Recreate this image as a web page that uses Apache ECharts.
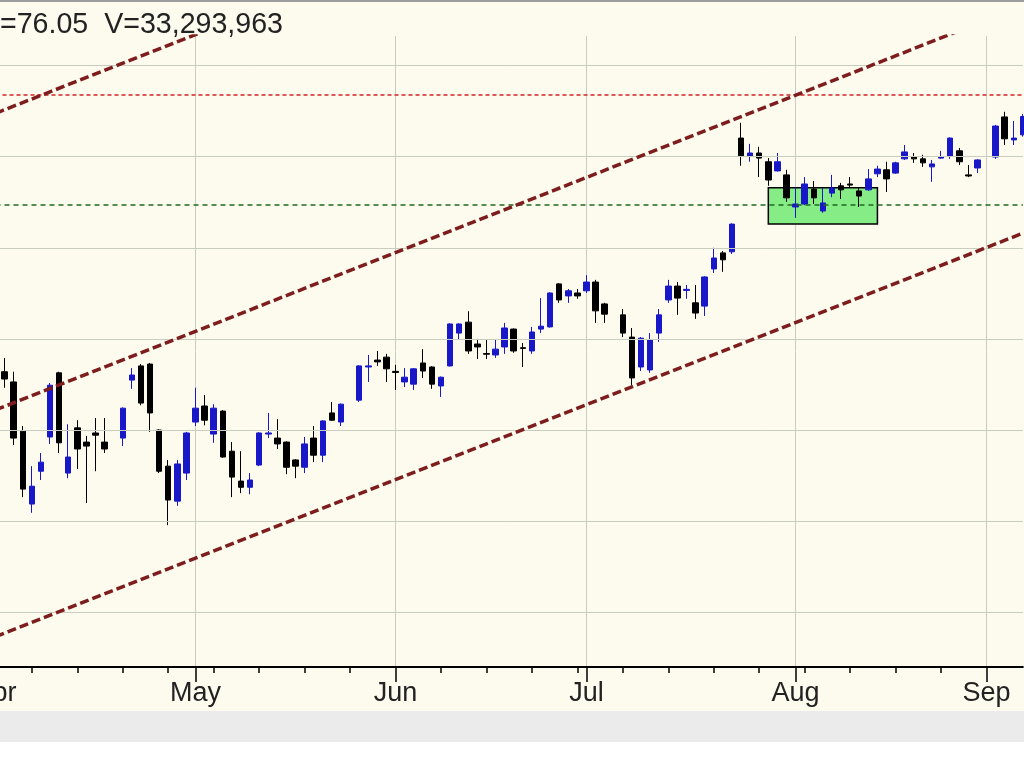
<!DOCTYPE html>
<html><head><meta charset="utf-8">
<script src="https://cdn.jsdelivr.net/npm/echarts@6/dist/echarts.min.js"></script>
<style>html,body{margin:0;padding:0;background:#fff}#c{width:1024px;height:768px}</style>
</head><body><div id="c"></div>
<script>
// Trading-calendar weekdays (holidays left as gaps)
const dates = [
 '2014-04-01','2014-04-02','2014-04-03','2014-04-04','2014-04-07','2014-04-08','2014-04-09','2014-04-10','2014-04-11',
 '2014-04-14','2014-04-15','2014-04-16','2014-04-17','2014-04-18','2014-04-21','2014-04-22','2014-04-23','2014-04-24','2014-04-25',
 '2014-04-28','2014-04-29','2014-04-30',
 '2014-05-01','2014-05-02','2014-05-05','2014-05-06','2014-05-07','2014-05-08','2014-05-09','2014-05-12','2014-05-13','2014-05-14',
 '2014-05-15','2014-05-16','2014-05-19','2014-05-20','2014-05-21','2014-05-22','2014-05-23','2014-05-26','2014-05-27','2014-05-28',
 '2014-05-29','2014-05-30',
 '2014-06-02','2014-06-03','2014-06-04','2014-06-05','2014-06-06','2014-06-09','2014-06-10','2014-06-11','2014-06-12','2014-06-13',
 '2014-06-16','2014-06-17','2014-06-18','2014-06-19','2014-06-20','2014-06-23','2014-06-24','2014-06-25','2014-06-26','2014-06-27',
 '2014-06-30',
 '2014-07-01','2014-07-02','2014-07-03','2014-07-04','2014-07-07','2014-07-08','2014-07-09','2014-07-10','2014-07-11','2014-07-14',
 '2014-07-15','2014-07-16','2014-07-17','2014-07-18','2014-07-21','2014-07-22','2014-07-23','2014-07-24','2014-07-25','2014-07-28',
 '2014-07-29','2014-07-30','2014-07-31',
 '2014-08-01','2014-08-04','2014-08-05','2014-08-06','2014-08-07','2014-08-08','2014-08-11','2014-08-12','2014-08-13','2014-08-14',
 '2014-08-15','2014-08-18','2014-08-19','2014-08-20','2014-08-21','2014-08-22','2014-08-25','2014-08-26','2014-08-27','2014-08-28',
 '2014-08-29',
 '2014-09-01','2014-09-02','2014-09-03','2014-09-04','2014-09-05'
];
// [open, close, low, high]
const ohlc = [
 '-',
 [69.10,68.90,68.66,69.48],[68.82,67.28,67.09,69.10],[67.47,65.88,65.66,67.61],[65.47,65.96,65.23,66.51],
 [66.37,66.62,66.13,66.87],[67.31,68.73,67.12,68.79],[69.07,67.15,66.87,69.10],[66.32,66.76,66.18,67.66],
 [67.56,66.98,66.43,67.77],[67.17,67.06,65.50,67.34],[67.42,67.36,66.37,67.83],[67.17,66.98,66.87,67.83],
 '-',
 [67.28,68.10,67.06,68.12],[68.87,69.01,68.63,69.20],[69.26,68.24,68.18,69.31],[69.31,67.97,67.45,69.34],
 [67.50,66.37,66.32,67.52],[66.51,65.58,64.89,66.68],[65.55,66.57,65.42,66.68],[66.32,67.42,66.13,67.45],
 [67.72,68.10,67.61,68.66],[68.16,67.77,67.63,68.46],[67.39,68.10,67.15,68.21],[68.02,66.76,66.74,68.05],
 [66.92,66.21,65.66,67.17],[66.10,65.93,65.77,66.92],[65.93,66.13,65.74,66.32],[66.54,67.42,66.51,67.44],
 [67.39,67.42,67.28,67.97],[67.28,67.12,66.98,67.80],[67.17,66.48,66.29,67.19],[66.68,66.51,66.18,66.70],
 [66.48,67.12,66.32,67.31],[67.28,66.81,66.62,67.61],[66.81,67.75,66.62,67.77],[67.97,67.77,67.75,68.27],
 [67.72,68.21,67.61,68.23],
 '-',
 [68.32,69.26,68.27,69.28],[69.23,69.26,68.82,69.56],[69.42,69.37,69.26,69.67],[69.50,69.18,68.82,69.59],
 [69.11,69.08,68.60,69.29],[68.82,68.95,68.68,69.20],[68.76,69.18,68.60,69.20],[69.34,69.12,68.93,69.72],
 [69.23,68.76,68.63,69.25],[68.71,68.95,68.41,68.97],[69.26,70.41,69.24,70.43],[70.16,70.41,69.97,70.43],
 [70.46,69.67,69.59,70.76],[69.86,69.78,69.45,70.00],[69.60,69.58,69.45,69.97],[69.56,69.72,69.48,69.97],
 [69.78,70.30,69.59,70.44],[70.27,69.67,69.62,70.29],[69.76,69.74,69.23,69.89],[69.67,70.19,69.59,70.33],
 [70.27,70.35,70.16,71.12],[70.33,71.26,70.31,71.28],[71.51,71.07,70.99,71.53],[71.18,71.32,70.99,71.37],
 [71.26,71.18,71.10,71.37],
 [71.32,71.56,71.26,71.75],[71.56,70.77,70.44,71.62],[70.96,70.68,70.44,70.99],
 '-',
 [70.66,70.16,70.05,70.82],[70.05,68.93,68.73,70.30],[69.23,70.02,69.12,70.05],[69.15,69.97,69.07,70.16],
 [70.16,70.66,69.92,70.82],[71.07,71.45,70.99,71.62],[71.45,71.12,70.66,71.56],[71.33,71.36,71.10,71.48],
 [70.99,70.71,70.55,71.48],[70.90,71.70,70.63,71.72],[71.92,72.22,71.81,72.50],[72.36,72.17,71.84,72.41],
 [72.39,73.15,72.33,73.17],[75.51,75.02,74.75,75.93],[75.02,75.10,74.86,75.35],[75.10,74.96,74.44,75.27],
 [74.86,74.36,74.20,74.96],[74.61,74.86,74.59,75.10],[74.50,73.87,73.76,74.64],
 [73.62,73.70,73.32,74.17],[73.70,74.25,73.67,74.44],[74.11,73.87,73.70,74.33],[73.51,73.73,73.46,74.14],
 [74.00,74.14,73.89,74.50],[74.20,74.09,73.84,74.28],[74.25,74.22,74.14,74.44],[74.06,73.92,73.62,74.14],
 [74.09,74.39,74.06,74.66],[74.53,74.66,74.44,74.75],[74.64,74.39,74.03,74.86],[74.55,74.83,74.53,74.86],
 [74.94,75.13,74.91,75.32],[74.99,74.94,74.83,75.10],[74.94,74.83,74.72,75.05],[74.72,74.80,74.31,74.91],
 [74.96,74.99,74.94,75.16],[75.02,75.51,74.94,75.53],[75.16,74.86,74.77,75.24],[74.50,74.47,74.44,74.77],
 [74.69,74.91,74.55,74.93],
 '-',
 [74.99,75.84,74.94,75.87],[76.09,75.49,75.32,76.23],[75.46,75.51,75.32,75.98],[75.60,76.10,75.55,76.17]
];
const monthStarts = ['2014-04-01','2014-05-01','2014-06-02','2014-07-01','2014-08-01','2014-09-01'];
const monthLabels = ['Apr','May','Jun','Jul','Aug','Sep'];
const gridLevels = [62.5, 65, 67.5, 70, 72.5, 75, 77.5];
const resistance = 76.69;
const support = 73.69;
const boxRange = [['2014-07-29', 74.15], ['2014-08-14', 73.15]];
const channelTop = [['2014-04-01', 76.19], ['2014-09-05', 87.27]];
const channelMid = [['2014-04-01', 68.05], ['2014-09-05', 79.14]];
const channelLow = [['2014-04-01', 61.83], ['2014-09-05', 72.90]];
const titleText = '=76.05  V=33,293,963';

const isMonth = (i, v) => monthStarts.indexOf(v) >= 0;
const isMonday = (i, v) => new Date(v + 'T00:00:00Z').getUTCDay() === 1;
const gridColor = '#c9cdc0';
const chanStyle = { color: '#7d1d1d', width: 3.5, type: [9, 4] };

const chart = echarts.init(document.getElementById('c'), null, { renderer: 'canvas' });
chart.setOption({
  animation: false,
  backgroundColor: '#fdfaee',
  title: {
    text: titleText, left: 0, top: 11, padding: 0,
    textStyle: { fontFamily: 'Liberation Sans, Arial', fontSize: 28.6, fontWeight: 'normal', color: '#222' }
  },
  graphic: [
    { type: 'rect', left: 0, top: 0, shape: { width: 1024, height: 2 }, style: { fill: '#9c9c9c' }, silent: true },
    { type: 'rect', left: 0, top: 711, shape: { width: 1024, height: 31 }, style: { fill: '#ebebeb' }, silent: true },
    { type: 'rect', left: 0, top: 742, shape: { width: 1024, height: 26 }, style: { fill: '#ffffff' }, silent: true }
  ],
  grid: { left: -4.5, right: 1.1, top: 36, bottom: 101, containLabel: false, outerBoundsMode: 'none' },
  xAxis: [
    {
      type: 'category', data: dates, boundaryGap: false, position: 'bottom',
      axisLine: { lineStyle: { color: '#000', width: 2 } },
      axisTick: { show: true, interval: isMonday, length: 6, lineStyle: { color: '#000', width: 1.5 } },
      axisLabel: { show: false }, splitLine: { show: false }
    },
    {
      type: 'category', data: dates, boundaryGap: false, position: 'bottom',
      axisLine: { show: false },
      axisTick: { show: true, interval: isMonth, length: 15, lineStyle: { color: '#000', width: 1.5 } },
      axisLabel: {
        show: true, interval: isMonth, margin: 13, hideOverlap: false,
        formatter: v => monthLabels[monthStarts.indexOf(v)] || '',
        fontFamily: 'Liberation Sans, Arial', fontSize: 27, color: '#222'
      },
      splitLine: { show: true, interval: isMonth, lineStyle: { color: gridColor, width: 1 } }
    }
  ],
  yAxis: { type: 'value', min: 61.0, max: 78.31, show: false, scale: true },
  series: [
    {
      name: 'grid', type: 'line', data: [], z: 1, silent: true,
      markLine: {
        silent: true, symbol: ['none', 'none'], label: { show: false },
        lineStyle: { color: gridColor, width: 1, type: 'solid' },
        data: gridLevels.map(v => ({ yAxis: v }))
      },
      markArea: {
        silent: true,
        itemStyle: { color: '#86ec86', borderColor: '#000', borderWidth: 1.5 },
        data: [[{ xAxis: boxRange[0][0], yAxis: boxRange[0][1] }, { xAxis: boxRange[1][0], yAxis: boxRange[1][1] }]]
      }
    },
    {
      name: 'levels', type: 'line', data: [], z: 4, silent: true,
      markLine: {
        silent: true, symbol: ['none', 'none'], label: { show: false },
        data: [
          { yAxis: resistance, lineStyle: { color: '#d22424', width: 1.5, type: [4, 3] } },
          { yAxis: support, lineStyle: { color: '#1f6a1f', width: 1.5, type: [5, 4] } }
        ]
      }
    },
    {
      name: 'Price', type: 'candlestick', data: ohlc, z: 3, barWidth: 6,
      itemStyle: { color: '#1818c8', color0: '#000000', borderColor: '#1818c8', borderColor0: '#000000', borderWidth: 1 }
    },
    { name: 'chanTop', type: 'line', data: channelTop, symbol: 'none', z: 5, silent: true, lineStyle: chanStyle },
    { name: 'chanMid', type: 'line', data: channelMid, symbol: 'none', z: 5, silent: true, lineStyle: chanStyle },
    { name: 'chanLow', type: 'line', data: channelLow, symbol: 'none', z: 5, silent: true, lineStyle: chanStyle }
  ]
});
</script>
</body></html>
